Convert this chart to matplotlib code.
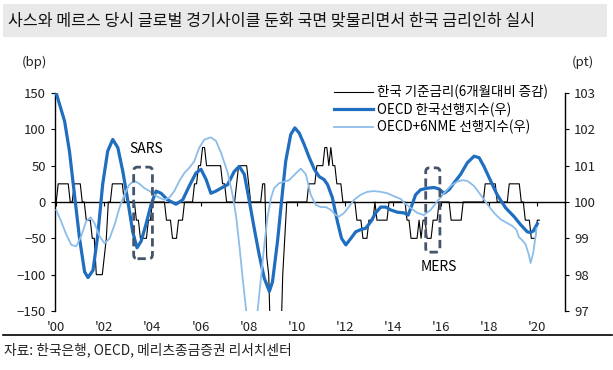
import numpy as np
import matplotlib
matplotlib.use("Agg")
import matplotlib.pyplot as plt
from matplotlib.patches import FancyBboxPatch, Rectangle
from matplotlib.lines import Line2D

plt.rcParams['font.family'] = ['Noto Sans CJK KR', 'DejaVu Sans']

# 한국 기준금리 6개월 대비 증감 (bp), monthly from Jan 2000
rate_chg = [
    0, 25, 25, 25, 25, 25, 25, 0, 0, 25, 25, 25,                      # 2000
    25, 0, 0, -25, -25, -25, -50, -50, -100, -100, -100, -100,        # 2001
    -75, -50, 0, 0, 25, 25, 25, 25, 25, 25, 0, 0,                     # 2002
    0, 0, 0, 0, -25, -25, -50, -50, -50, -50, -25, -25,               # 2003
    0, 0, 0, 0, 0, 0, 0, -25, -25, -25, -50, -50,                     # 2004
    -50, -25, -25, -25, 0, 0, 0, 0, 0, 25, 25, 50,                    # 2005
    50, 75, 75, 50, 50, 50, 50, 50, 50, 50, 50, 25,                   # 2006
    25, 0, 0, 0, 0, 0, 25, 50, 50, 50, 50, 50,                        # 2007
    25, 0, 0, 0, 0, 0, 0, 25, 25, -75, -100, -200,                    # 2008
    -250, -325, -325, -225, -200, -100, -50, 0, 0, 0, 0, 0,           # 2009
    0, 0, 0, 0, 0, 0, 25, 25, 25, 25, 50, 50,                         # 2010
    50, 50, 75, 75, 50, 75, 50, 50, 25, 25, 25, 0,                    # 2011
    0, 0, 0, 0, 0, 0, -25, -25, -25, -50, -50, -50,                   # 2012
    -25, -25, -25, 0, -25, -25, -25, -25, -25, -25, 0, 0,             # 2013
    0, 0, 0, 0, 0, 0, 0, -25, -25, -50, -50, -50,                     # 2014
    -50, -25, -50, -25, -25, -50, -50, -50, -25, -25, -25, 0,         # 2015
    0, 0, 0, 0, 0, -25, -25, -25, -25, -25, -25, 0,                   # 2016
    0, 0, 0, 0, 0, 0, 0, 0, 0, 0, 25, 25,                             # 2017
    25, 25, 25, 25, 0, 0, 0, 0, 0, 0, 25, 25,                         # 2018
    25, 25, 25, 25, 0, 0, -25, -25, -25, -50, -50, -50,               # 2019
    -25, -25,                                                         # 2020
]
rate_dates = 2000 + np.arange(len(rate_chg)) / 12

# OECD 한국 선행지수 (pt)
kor_dates = [2000.00, 2000.35, 2000.55, 2000.76, 2000.97, 2001.18, 2001.32, 2001.53, 2001.73, 2001.93,
             2002.14, 2002.35, 2002.56, 2002.77, 2002.98, 2003.18, 2003.36, 2003.53, 2003.73, 2003.94,
             2004.15, 2004.36, 2004.63, 2004.98, 2005.26, 2005.53, 2005.81, 2006.02, 2006.23, 2006.43,
             2006.64, 2006.85, 2007.13, 2007.40, 2007.61, 2007.82, 2008.03, 2008.23, 2008.44, 2008.65,
             2008.86, 2008.99, 2009.20, 2009.41, 2009.54, 2009.75, 2009.92, 2010.10, 2010.31, 2010.52,
             2010.73, 2010.93, 2011.13, 2011.28, 2011.48, 2011.69, 2011.86, 2012.04, 2012.25, 2012.45,
             2012.66, 2012.87, 2013.08, 2013.28, 2013.49, 2013.70, 2013.91, 2014.18, 2014.46, 2014.63,
             2014.79, 2014.94, 2015.15, 2015.43, 2015.70, 2015.91, 2016.12, 2016.33, 2016.53, 2016.81,
             2017.09, 2017.37, 2017.58, 2017.78, 2018.06, 2018.33, 2018.68, 2019.03, 2019.30, 2019.58,
             2019.71, 2019.83, 2020.00]
kor_cli = [103.00, 102.22, 101.40, 100.20, 99.00, 98.08, 97.92, 98.12, 99.10, 100.48,
           101.40, 101.72, 101.50, 100.84, 100.02, 99.18, 98.74, 98.92, 99.38, 99.92,
           100.30, 100.24, 100.06, 99.94, 100.06, 100.44, 100.80, 100.90, 100.62, 100.24,
           100.30, 100.38, 100.48, 100.84, 100.98, 100.76, 100.02, 99.28, 98.54, 97.90,
           97.54, 97.80, 98.92, 100.30, 101.12, 101.86, 102.04, 101.90, 101.58, 101.22,
           100.90, 100.70, 100.62, 100.48, 100.12, 99.46, 99.00, 98.82, 99.00, 99.18,
           99.24, 99.28, 99.46, 99.70, 99.86, 99.86, 99.78, 99.72, 99.70, 99.64,
           99.92, 100.20, 100.34, 100.38, 100.40, 100.36, 100.24, 100.34, 100.52, 100.76,
           101.08, 101.26, 101.22, 100.98, 100.58, 100.20, 99.84, 99.60, 99.38, 99.18,
           99.16, 99.20, 99.40]

# OECD+6NME 선행지수 (pt)
nme_dates = [2000.00, 2000.21, 2000.42, 2000.63, 2000.83, 2001.04, 2001.24, 2001.43, 2001.59, 2001.80,
             2002.01, 2002.22, 2002.43, 2002.63, 2002.83, 2003.04, 2003.25, 2003.46, 2003.67, 2003.88,
             2004.08, 2004.29, 2004.49, 2004.70, 2004.91, 2005.12, 2005.33, 2005.53, 2005.74, 2005.95,
             2006.16, 2006.43, 2006.64, 2006.85, 2007.13, 2007.33, 2007.48, 2007.63, 2007.75, 2007.90,
             2008.13, 2008.37, 2008.51, 2008.65, 2008.78, 2008.93, 2009.06, 2009.27, 2009.48, 2009.68,
             2009.92, 2010.17, 2010.38, 2010.58, 2010.79, 2011.00, 2011.21, 2011.42, 2011.62, 2011.76,
             2011.97, 2012.18, 2012.38, 2012.66, 2012.93, 2013.21, 2013.49, 2013.77, 2014.04, 2014.33,
             2014.46, 2014.73, 2015.01, 2015.28, 2015.56, 2015.84, 2016.12, 2016.39, 2016.67, 2016.88,
             2017.09, 2017.37, 2017.64, 2017.92, 2018.20, 2018.48, 2018.75, 2018.96, 2019.13, 2019.23,
             2019.38, 2019.51, 2019.65, 2019.72, 2019.83, 2019.97]
nme_cli = [99.78, 99.46, 99.10, 98.82, 98.78, 99.06, 99.46, 99.58, 99.42, 99.06,
           98.86, 99.00, 99.38, 99.84, 100.20, 100.48, 100.58, 100.50, 100.38, 100.30,
           100.20, 100.12, 100.06, 100.12, 100.30, 100.58, 100.80, 100.94, 101.12, 101.50,
           101.72, 101.78, 101.68, 101.36, 100.80, 100.20, 99.60, 98.70, 97.90, 97.00,
           95.70, 97.00, 97.90, 98.82, 99.56, 100.12, 100.38, 100.52, 100.56, 100.60,
           100.76, 100.92, 100.76, 100.20, 99.92, 99.86, 99.86, 99.78, 99.64, 99.60,
           99.70, 99.88, 100.06, 100.20, 100.28, 100.30, 100.28, 100.24, 100.16, 100.08,
           99.98, 99.84, 99.70, 99.64, 99.78, 100.02, 100.24, 100.44, 100.56, 100.60,
           100.58, 100.44, 100.20, 99.94, 99.70, 99.52, 99.42, 99.34, 99.24, 99.04,
           98.94, 98.84, 98.54, 98.32, 98.60, 99.28]

year_ticks = list(range(2000, 2021, 2))
year_labels = ["'00", "'02", "'04", "'06", "'08", "'10", "'12", "'14", "'16", "'18", "'20"]

title = '사스와 메르스 당시 글로벌 경기사이클 둔화 국면 맞물리면서 한국 금리인하 실시'
source = '자료: 한국은행, OECD, 메리츠종금증권 리서치센터'

W, H = 613, 370
fig = plt.figure(figsize=(W / 100, H / 100), dpi=100)
ax = fig.add_axes([55 / W, 1 - 311 / H, 510 / W, 218 / H])
ax2 = ax.twinx()

dark_blue = '#1f6ebf'
light_blue = '#8dbde9'
box_color = '#44546a'

ax.plot(rate_dates, rate_chg, color='black', lw=0.8, label='한국 기준금리(6개월대비 증감)')
ax2.plot(kor_dates, kor_cli, color=dark_blue, lw=2.3, label='OECD 한국선행지수(우)')
ax2.plot(nme_dates, nme_cli, color=light_blue, lw=1.3, label='OECD+6NME 선행지수(우)')

ax.set_xlim(1999.95, 2021.15)
ax.set_ylim(-150, 150)
ax2.set_ylim(97, 103)
ax.set_yticks(range(-150, 151, 50))
ax2.set_yticks(range(97, 104))
ax.set_xticks(year_ticks)
ax.set_xticklabels(year_labels)

for s in ['top', 'right']:
    ax.spines[s].set_visible(False)
for s in ['top', 'left', 'bottom']:
    ax2.spines[s].set_visible(False)
ax.spines['bottom'].set_position(('data', 0))
ax.spines['bottom'].set_linewidth(1.0)
ax.spines['left'].set_linewidth(1.0)
ax2.spines['right'].set_linewidth(1.0)

ax.tick_params(axis='x', direction='out', length=3, pad=83, labelsize=9.5, colors='#222222')
ax.tick_params(axis='y', direction='out', length=3, labelsize=9.5, colors='#222222')
ax2.tick_params(axis='y', direction='out', length=3, labelsize=9.5, colors='#222222')
ax.tick_params(axis='both', color='black')
ax2.tick_params(axis='y', color='black')

# event boxes (SARS, MERS)
aspect = (300 / 218) / (21.2 / 510)
for (x0, x1, y0, y1) in [(2003.22, 2004.0, -78, 48), (2015.36, 2015.95, -69, 47)]:
    box = FancyBboxPatch((x0, y0), x1 - x0, y1 - y0,
                         boxstyle='round,pad=0,rounding_size=0.16', mutation_aspect=aspect,
                         transform=ax.transData, fill=False, edgecolor=box_color,
                         lw=2.0, ls=(0, (3, 1.6)), zorder=5)
    ax2.add_patch(box)
ax2.text(2003.73, 73, 'SARS', transform=ax.transData, ha='center', va='center', fontsize=10)
ax2.text(2015.9, -90, 'MERS', transform=ax.transData, ha='center', va='center', fontsize=10)

h1, l1 = ax.get_legend_handles_labels()
h2, l2 = ax2.get_legend_handles_labels()
leg = ax2.legend(h1 + h2, l1 + l2, loc='upper left', bbox_to_anchor=(334 / W, 1 - 85 / H),
                 bbox_transform=fig.transFigure, frameon=False, fontsize=9.7,
                 handlelength=2.9, handletextpad=0.3, labelspacing=0.22, borderpad=0,
                 borderaxespad=0)

# title band, unit labels, source
fig.patches.append(Rectangle((3 / W, 1 - 37 / H), 604 / W, 33 / H, transform=fig.transFigure,
                             facecolor='#e9e9e9', edgecolor='none', zorder=0))
fig.text(8 / W, 1 - 21 / H, title, va='center', ha='left', fontsize=11.6, color='#111111')
fig.text(34 / W, 1 - 62 / H, '(bp)', va='center', ha='center', fontsize=9.5, color='#222222')
fig.text(583 / W, 1 - 62 / H, '(pt)', va='center', ha='center', fontsize=9.5, color='#222222')
fig.add_artist(Line2D([3 / W, 612 / W], [1 - 335 / H, 1 - 335 / H], transform=fig.transFigure,
                      color='black', lw=1.2))
fig.text(4 / W, 1 - 350 / H, source, va='center', ha='left', fontsize=9.9, color='#222222')

fig.savefig('out.png', dpi=100)
